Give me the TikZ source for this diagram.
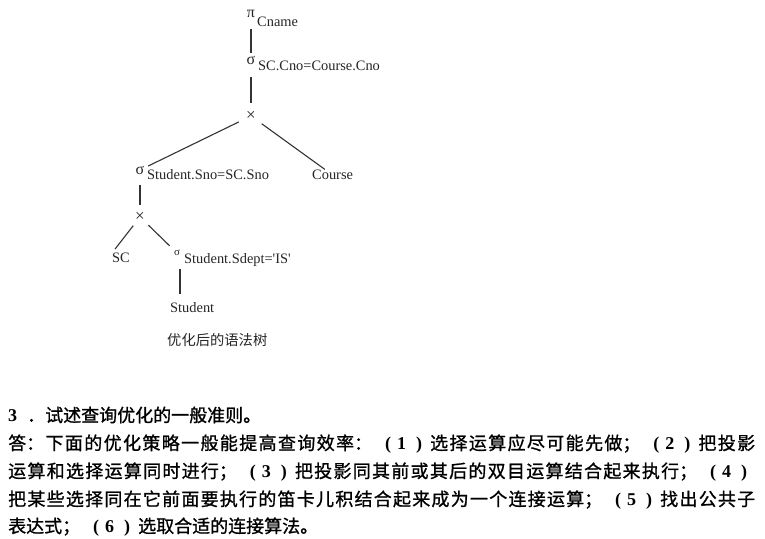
\documentclass[tikz,border=0pt]{standalone}
\usepackage{fontspec}
\setmainfont{Liberation Serif}
\newfontfamily\cjk{Noto Sans CJK SC}[FakeBold=1]
\newfontfamily\cjkcap{Noto Sans CJK SC}
\newcommand{\pg}[1]{\makebox[58pt][l]{\hspace{13pt}{\rmfamily\bfseries (}\hspace{6pt}{\rmfamily\bfseries #1}\hspace{10pt}{\rmfamily\bfseries )}}}
\XeTeXlinebreaklocale "zh"
\XeTeXlinebreakskip=0pt plus 2pt
\begin{document}
\begin{tikzpicture}[x=1pt,y=-1pt,
  lab/.style={font=\fontsize{14.4}{16}\selectfont, inner sep=0pt, text=black!85},
  sym/.style={font=\fontsize{16}{16}\selectfont, inner sep=0pt, text=black!85},
  xsym/.style={font=\fontsize{17}{17}\selectfont, inner sep=0pt, text=black!85},
  ssym/.style={font=\fontsize{11}{11}\selectfont, inner sep=0pt, text=black!85},
  edge/.style={draw=black!80, line width=1.1pt},
  body/.style={font=\fontsize{18}{18}\selectfont\cjk, inner sep=0pt, anchor=west}]
\useasboundingbox (0,0) rectangle (765,538);
\fill[white] (0,0) rectangle (765,538);
% tree
\node[sym] (pi) at (251,14) {π};
\node[lab,anchor=west] (piL) at (257,22) {Cname};
\node[sym] (s1) at (251,60) {σ};
\node[lab,anchor=west] (s1L) at (258,66) {SC.Cno=Course.Cno};
\node[xsym] (x1) at (251,116) {×};
\node[sym] (s2) at (140,170) {σ};
\node[lab,anchor=west] (s2L) at (147,175) {Student.Sno=SC.Sno};
\node[lab,anchor=west] (co) at (312,175) {Course};
\node[xsym] (x2) at (140,217) {×};
\node[lab,anchor=west] (sc) at (112,258) {SC};
\node[ssym] (s3) at (177,253) {σ};
\node[lab,anchor=west] (s3L) at (184,260) {Student.Sdept=\textquotesingle IS\textquotesingle};
\node[lab,anchor=west] (st) at (170,308) {Student};
\node[lab,font=\fontsize{14.3}{16}\selectfont\cjkcap,anchor=west] (cap) at (167,340) {优化后的语法树};
\draw[edge,shorten <=11pt,shorten >=3pt] (pi) -- (s1);
\draw[edge,shorten <=13pt,shorten >=8pt] (s1) -- (x1);
\draw[edge,shorten <=8pt,shorten >=4pt] (x1) -- (s2);
\draw[edge,shorten <=7pt,shorten >=1pt] (x1) -- (co);
\draw[edge,shorten <=11pt,shorten >=7pt] (s2) -- (x2);
\draw[edge,shorten <=5pt,shorten >=5pt] (x2) -- (sc.north west);
\draw[edge,shorten <=5pt,shorten >=6pt] (x2) -- (s3);
\draw[edge,shorten <=13pt,shorten >=9pt] ([xshift=3pt]s3.south) -- ([xshift=3pt]s3.south |- st.north);
% text
\node[body] (l1) at (8,415) {{\rmfamily\bfseries 3}\hspace{10pt}．试述查询优化的一般准则。};
\node[body] (l2) at (8,444) {\parbox{747pt}{\parfillskip=0pt 答：下面的优化策略一般能提高查询效率：\pg{1}选择运算应尽可能先做；\pg{2}把投影}};
\node[body] (l3) at (8,472) {\parbox{747pt}{\parfillskip=0pt 运算和选择运算同时进行；\pg{3}把投影同其前或其后的双目运算结合起来执行；\pg{4}}};
\node[body] (l4) at (8,500) {\parbox{747pt}{\parfillskip=0pt 把某些选择同在它前面要执行的笛卡儿积结合起来成为一个连接运算；\pg{5}找出公共子}};
\node[body] (l5) at (8,527) {表达式；\pg{6}选取合适的连接算法。};
\end{tikzpicture}
\end{document}
